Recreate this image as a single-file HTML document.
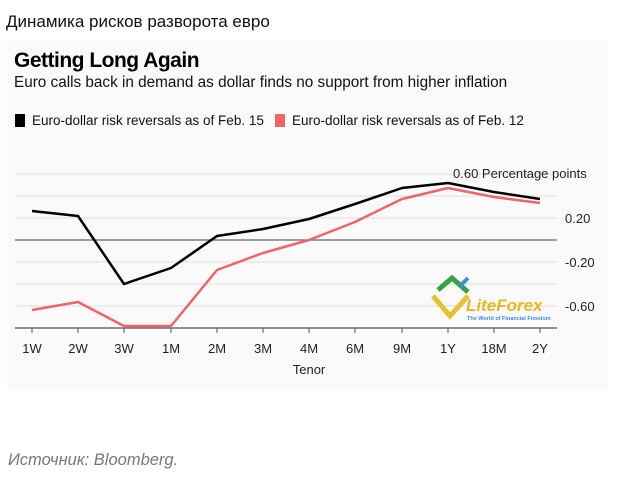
<!DOCTYPE html>
<html><head><meta charset="utf-8"><style>
body{margin:0;width:626px;height:483px;background:#fff;overflow:hidden;font-family:"Liberation Sans",sans-serif}
</style></head><body>
<svg width="626" height="483" xmlns="http://www.w3.org/2000/svg" font-family="Liberation Sans, sans-serif">
<text x="6" y="27" font-size="17" fill="#111" font-family="Liberation Sans, DejaVu Sans, sans-serif">Динамика рисков разворота евро</text>
<rect x="7" y="40" width="601" height="350" fill="#fafafa"/>
<text x="14" y="67" font-size="21" font-weight="bold" fill="#000" letter-spacing="-0.5">Getting Long Again</text>
<text x="14" y="87" font-size="15.3" fill="#111">Euro calls back in demand as dollar finds no support from higher inflation</text>
<rect x="15" y="114" width="10" height="13" fill="#000"/>
<text x="32" y="125" font-size="13.5" fill="#111">Euro-dollar risk reversals as of Feb. 15</text>
<rect x="275" y="114" width="10" height="13" fill="#f06468"/>
<text x="292" y="125" font-size="13.5" fill="#111">Euro-dollar risk reversals as of Feb. 12</text>
<g stroke="#ddd" stroke-width="1">
<line x1="15" x2="557" y1="174" y2="174"/><line x1="15" x2="557" y1="196" y2="196"/>
<line x1="15" x2="557" y1="218" y2="218"/><line x1="15" x2="557" y1="262" y2="262"/>
<line x1="15" x2="557" y1="284" y2="284"/><line x1="15" x2="557" y1="306" y2="306"/>
</g>
<line x1="15" x2="557" y1="240" y2="240" stroke="#666" stroke-width="1.2"/>
<line x1="15" x2="557" y1="328" y2="328" stroke="#555" stroke-width="1.2"/>
<g stroke="#555" stroke-width="1">
<line x1="32" x2="32" y1="328" y2="333"/><line x1="78" x2="78" y1="328" y2="333"/><line x1="124" x2="124" y1="328" y2="333"/><line x1="171" x2="171" y1="328" y2="333"/><line x1="217" x2="217" y1="328" y2="333"/><line x1="263" x2="263" y1="328" y2="333"/><line x1="309" x2="309" y1="328" y2="333"/><line x1="355" x2="355" y1="328" y2="333"/><line x1="402" x2="402" y1="328" y2="333"/><line x1="448" x2="448" y1="328" y2="333"/><line x1="494" x2="494" y1="328" y2="333"/><line x1="540" x2="540" y1="328" y2="333"/>
</g>
<g font-size="13" fill="#222" text-anchor="middle">
<text x="32" y="353">1W</text><text x="78" y="353">2W</text><text x="124" y="353">3W</text><text x="171" y="353">1M</text><text x="217" y="353">2M</text><text x="263" y="353">3M</text><text x="309" y="353">4M</text><text x="355" y="353">6M</text><text x="402" y="353">9M</text><text x="448" y="353">1Y</text><text x="494" y="353">18M</text><text x="540" y="353">2Y</text>
<text x="309" y="374">Tenor</text>
</g>
<g font-size="13" fill="#222">
<text x="453" y="178">0.60 Percentage points</text>
<text x="565" y="223">0.20</text>
<text x="565" y="267">-0.20</text>
<text x="565" y="311">-0.60</text>
</g>
<polyline fill="none" stroke="#f06468" stroke-width="2.5" stroke-linejoin="round" points="32,310 78,302 124,326 171,326 217,270 263,253 309,240 355,222 402,199 448,188 494,197 540,203"/>
<polyline fill="none" stroke="#000" stroke-width="2.5" stroke-linejoin="round" points="32,211 78,216 124,284 171,268 217,236 263,229 309,219 355,204 402,188 448,183 494,192 540,199"/>
<g>
<polyline points="433,296 450,316 468,296" fill="none" stroke="#e8c22a" stroke-width="5"/>
<polyline points="438,290 452,278 468,292" fill="none" stroke="#3aa046" stroke-width="5"/>
<line x1="460" y1="286" x2="468" y2="278" stroke="#3a8ee0" stroke-width="4"/>
<text x="466" y="311" font-size="17" font-weight="bold" font-style="italic" fill="#e8b820">LiteForex</text>
<text x="467" y="320" font-size="5.5" font-weight="bold" fill="#3a8ee0">The World of Financial Freedom</text>
</g>
<text x="8" y="465" font-size="16.5" font-style="italic" fill="#777">Источник: Bloomberg.</text>
</svg>
</body></html>
